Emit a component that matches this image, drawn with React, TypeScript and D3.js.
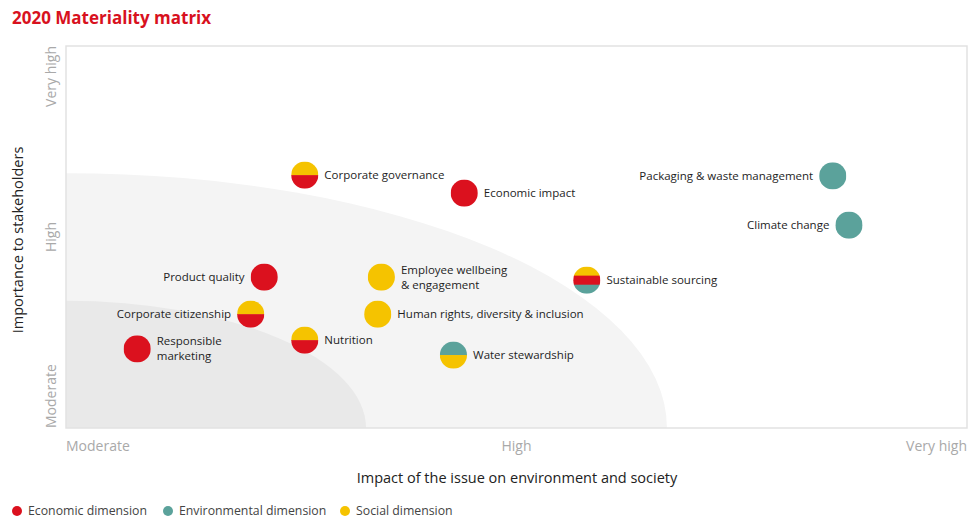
import React from "react";
import * as d3 from "d3";

// ---------- data ----------
const issues = [
  "Corporate governance",
  "Economic impact",
  "Packaging & waste management",
  "Climate change",
  "Product quality",
  "Employee wellbeing\n& engagement",
  "Sustainable sourcing",
  "Corporate citizenship",
  "Human rights, diversity & inclusion",
  "Nutrition",
  "Responsible\nmarketing",
  "Water stewardship",
];
// impact of the issue on environment and society (0 = moderate, 50 = high, 100 = very high)
const impact = [26.5, 44.2, 85.1, 86.9, 22.0, 35.0, 57.8, 20.5, 34.6, 26.5, 7.9, 43.0];
// importance to stakeholders
const importance = [66.2, 61.5, 66.0, 53.1, 39.5, 39.5, 38.7, 29.8, 29.8, 23.0, 20.7, 19.1];
// dimensions, listed top band to bottom band
const dimensions = [
  ["Social", "Economic"],
  ["Economic"],
  ["Environmental"],
  ["Environmental"],
  ["Economic"],
  ["Social"],
  ["Social", "Economic", "Environmental"],
  ["Social", "Economic"],
  ["Social"],
  ["Social", "Economic"],
  ["Economic"],
  ["Environmental", "Social"],
];
const labelSide = ["right", "right", "left", "left", "left", "right", "right", "left", "right", "right", "right", "right"];

const levelLabels = ["Moderate", "High", "Very high"];
const levelValues = [0, 50, 100];
const zoneRadii = [66.7, 33.3];

const legendNames = ["Economic dimension", "Environmental dimension", "Social dimension"];
const legendKeys = ["Economic", "Environmental", "Social"];

// ---------- layout / style ----------
const W = 969;
const H = 518;
const plot = { left: 66, top: 46, right: 967, bottom: 428 };
const FONT = "'Open Sans', 'DejaVu Sans', sans-serif";
const colors: Record<string, string> = {
  Economic: "#db111e",
  Environmental: "#5ba29b",
  Social: "#f5c300",
};
const zoneFill = ["#f4f4f4", "#e9e9e9"];
const R = 13.6;
const legendX = [17, 168, 345];

export default function App() {
  const x = d3.scaleLinear().domain([0, 100]).range([plot.left, plot.right]);
  const y = d3.scaleLinear().domain([0, 100]).range([plot.bottom, plot.top]);

  const zonePath = (r: number) => {
    const rx = x(r) - x(0);
    const ry = y(0) - y(r);
    const cx = x(0);
    const cy = y(0);
    return `M${cx},${cy} L${cx},${cy - ry} A${rx},${ry} 0 0 1 ${cx + rx},${cy} Z`;
  };

  return (
    <div style={{ position: "absolute", left: 0, top: 0 }}>
      <svg width={W} height={H} style={{ display: "block", background: "#fff" }} fontFamily={FONT}>
        <defs>
          <clipPath id="plotclip">
            <rect x={plot.left} y={plot.top} width={plot.right - plot.left} height={plot.bottom - plot.top} />
          </clipPath>
        </defs>
        <text x={12} y={24} fontSize={17} fontWeight={700} fill="#d8111e">
          2020 Materiality matrix
        </text>

        {/* zones */}
        <g clipPath="url(#plotclip)">
          {zoneRadii.map((r, i) => (
            <path key={i} d={zonePath(r)} fill={zoneFill[i]} />
          ))}
        </g>
        <rect
          x={plot.left}
          y={plot.top}
          width={plot.right - plot.left}
          height={plot.bottom - plot.top}
          fill="none"
          stroke="#e2e2e2"
          strokeWidth={1.5}
        />

        {/* x tick labels */}
        {levelLabels.map((l, i) => (
          <text
            key={"x" + i}
            x={x(levelValues[i])}
            y={451}
            fontSize={14}
            fill="#a9a9a9"
            textAnchor={i === 0 ? "start" : i === 2 ? "end" : "middle"}
          >
            {l}
          </text>
        ))}
        {/* y tick labels */}
        {levelLabels.map((l, i) => (
          <text
            key={"y" + i}
            transform={`translate(56,${y(levelValues[i])}) rotate(-90)`}
            fontSize={14}
            fill="#a9a9a9"
            textAnchor={i === 0 ? "start" : i === 2 ? "end" : "middle"}
          >
            {l}
          </text>
        ))}

        {/* axis titles */}
        <text x={517} y={483} fontSize={14.5} fontWeight={500} fill="#222" textAnchor="middle">
          Impact of the issue on environment and society
        </text>
        <text
          transform={`translate(23,${(plot.top + plot.bottom) / 2 + 3}) rotate(-90)`}
          fontSize={14.5}
          fontWeight={500}
          fill="#222"
          textAnchor="middle"
        >
          Importance to stakeholders
        </text>

        {/* points */}
        {issues.map((name, i) => {
          const cx = x(impact[i]);
          const cy = y(importance[i]);
          const bands = dimensions[i];
          const n = bands.length;
          const lines = name.split("\n");
          const side = labelSide[i];
          const lx = side === "right" ? cx + R + 6 : cx - R - 6;
          const lineH = 15;
          const y0 = cy - ((lines.length - 1) * lineH) / 2;
          return (
            <g key={i}>
              <defs>
                <clipPath id={"c" + i}>
                  <circle cx={cx} cy={cy} r={R} />
                </clipPath>
              </defs>
              <g clipPath={`url(#c${i})`}>
                {bands.map((b, j) => (
                  <rect
                    key={j}
                    x={cx - R}
                    y={cy - R + (2 * R * j) / n}
                    width={2 * R}
                    height={(2 * R) / n + (j < n - 1 ? 0.5 : 0)}
                    fill={colors[b]}
                  />
                ))}
              </g>
              <text
                fontSize={11.5}
                fontWeight={500}
                fill="#1e1e1e"
                textAnchor={side === "right" ? "start" : "end"}
              >
                {lines.map((ln, k) => (
                  <tspan key={k} x={lx} y={y0 + k * lineH} dy="0.35em">
                    {ln}
                  </tspan>
                ))}
              </text>
            </g>
          );
        })}

        {/* legend */}
        {legendNames.map((name, i) => {
          const lx = legendX[i];
          return (
            <g key={name}>
              <circle cx={lx} cy={511} r={5} fill={colors[legendKeys[i]]} />
              <text x={lx + 11} y={515} fontSize={12.3} fill="#444">
                {name}
              </text>
            </g>
          );
        })}
      </svg>
    </div>
  );
}
